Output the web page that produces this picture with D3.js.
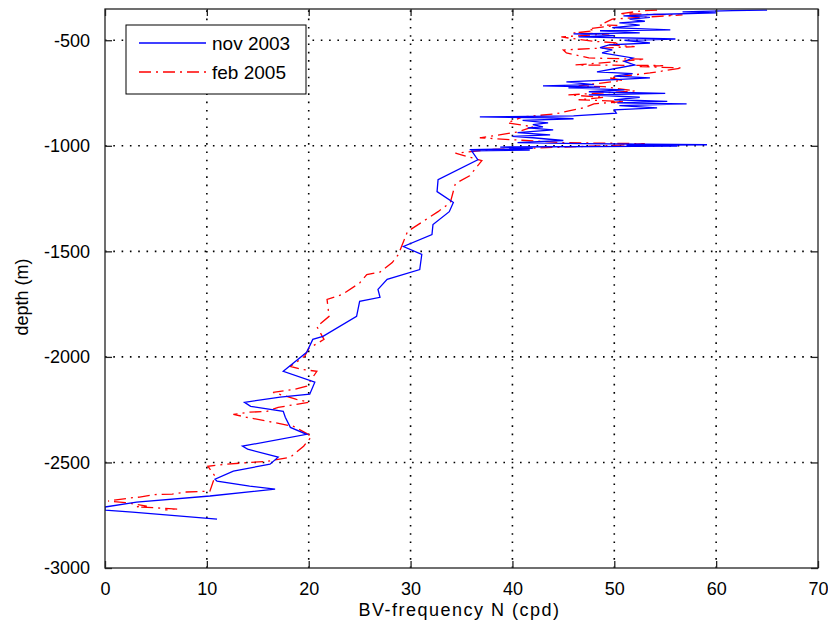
<!DOCTYPE html>
<html>
<head>
<meta charset="utf-8">
<script src="https://cdn.jsdelivr.net/npm/d3@7"></script>
<style>
  html, body { margin: 0; padding: 0; background: #fff; }
  text { font-family: "Liberation Sans", Arial, Helvetica, sans-serif; fill: #000; }
</style>
</head>
<body>
<svg id="chart" width="828" height="632"></svg>
<script>
// ---- data ----
const xTicks = [0, 10, 20, 30, 40, 50, 60, 70];
const yTicks = [-500, -1000, -1500, -2000, -2500, -3000];
const seriesNames = ["nov 2003", "feb 2005"];

const novDepth = [-357,-360,-366,-370,-378,-385,-392,-400,-410,-418,-428,-440,-451,-455,-465,-470,-478,-484,-494,-500,
  -513,-522,-535,-546,-560,-584,-600,-617,-650,-658,-670,-678,-690,-697,-710,-716,-722,-726,-735,-744,
  -752,-759,-770,-782,-790,-797,-801,-810,-820,-830,-845,-858,-863,-868,-872,-880,-891,-900,-910,-915,
  -925,-938,-948,-955,-962,-975,-985,-990,-995,-998,-1002,-1006,-1012,-1018,-1020,-1024,-1066,-1161,-1217,-1269,
  -1312,-1373,-1421,-1477,-1515,-1586,-1633,-1680,-1718,-1737,-1808,-1903,-1917,-1978,-2068,-2120,-2177,-2191,-2215,-2234,
  -2258,-2286,-2334,-2367,-2423,-2437,-2475,-2508,-2541,-2579,-2589,-2612,-2626,-2659,-2688,-2711,-2726,-2735,-2768];
const novN = [65.0,61.6,56.7,60.0,53.8,50.9,53.5,51.5,53.0,50.5,52.5,49.8,55.5,48.6,52.5,46.0,50.0,46.5,56.0,51.0,
  53.5,49.5,48.6,49.8,48.8,51.8,51.0,52.0,48.3,51.8,50.0,53.5,48.6,45.3,48.0,43.0,48.6,45.5,51.0,47.5,
  55.0,47.5,52.5,50.0,55.2,50.3,57.1,50.5,54.2,50.0,50.2,46.0,36.8,44.0,46.0,41.0,43.5,42.0,43.0,41.5,
  44.0,40.5,43.7,40.0,42.0,45.0,40.5,46.8,59.1,51.2,56.2,38.8,42.0,35.8,41.7,36.0,36.6,32.7,32.6,34.2,
  33.8,32.2,32.1,29.3,31.1,30.9,27.7,26.8,27.0,25.0,24.7,21.4,20.4,19.8,17.5,20.6,20.1,17.2,13.7,14.3,
  17.5,17.7,18.2,19.8,13.5,14.0,17.0,16.2,12.6,10.8,11.0,14.2,16.7,10.3,3.1,0,0,2.7,11.0];

const febDepth = [-357,-360,-375,-380,-400,-428,-430,-445,-455,-465,-470,-484,-490,-505,-513,-522,-530,-546,-560,-584,
  -590,-617,-620,-625,-631,-655,-678,-690,-716,-720,-740,-759,-770,-782,-790,-801,-820,-849,-863,-891,
  -910,-935,-962,-985,-990,-998,-1018,-1035,-1070,-1142,-1179,-1269,-1312,-1359,-1406,-1515,-1553,-1598,-1610,-1650,
  -1704,-1728,-1808,-1856,-1917,-1960,-1997,-2045,-2060,-2068,-2139,-2154,-2168,-2201,-2215,-2239,-2258,-2262,-2272,-2286,
  -2310,-2329,-2376,-2423,-2475,-2494,-2508,-2518,-2565,-2636,-2640,-2650,-2652,-2664,-2668,-2683,-2690,-2707,-2710,-2721,-2725];
const febN = [54.2,52.8,50.5,56.7,49.8,48.6,50.3,47.5,48.0,46.0,49.5,44.8,45.6,48.0,50.5,49.5,52.0,45.0,45.3,47.5,
  53.0,46.2,54.8,52.5,56.7,53.5,49.5,50.8,46.5,49.0,52.0,45.5,49.0,46.5,51.0,48.0,47.0,44.2,41.0,39.5,
  42.0,40.5,36.8,44.8,53.0,50.0,37.8,34.4,37.0,35.8,34.4,33.9,32.7,31.2,29.7,28.8,28.2,27.0,25.7,25.0,
  23.3,21.8,22.0,20.8,21.5,20.0,19.6,18.2,19.4,20.8,19.8,18.6,16.5,18.8,20.0,17.0,15.9,14.2,12.6,13.9,
  16.5,18.5,20.3,19.5,18.2,16.0,12.0,10.1,10.8,10.3,8.0,6.6,4.9,3.4,2.5,0.3,2.0,4.1,3.1,7.2,5.9];

// ---- layout ----
const svg = d3.select("#chart");
const L = 105, R = 818, T = 9, B = 568;
const x = d3.scaleLinear().domain([0, 70]).range([L, R]);
const y = d3.scaleLinear().domain([-3000, -352]).range([B, T]);
const FS = 18;

svg.append("rect").attr("width", 828).attr("height", 632).attr("fill", "#fff");

svg.append("defs").append("clipPath").attr("id", "clip")
  .append("rect").attr("x", L).attr("y", T).attr("width", R - L).attr("height", B - T);

// grid
const grid = svg.append("g").attr("stroke", "#000").attr("stroke-width", 1.6)
  .attr("stroke-dasharray", "1.6,6.7").attr("fill", "none");
xTicks.filter(v => v > 0 && v < 70).forEach(v => {
  grid.append("line").attr("x1", x(v)).attr("x2", x(v)).attr("y1", B).attr("y2", T);
});
yTicks.filter(v => v > -3000).forEach(v => {
  grid.append("line").attr("x1", L).attr("x2", R).attr("y1", y(v)).attr("y2", y(v));
});

// data lines
const plot = svg.append("g").attr("clip-path", "url(#clip)");
const line = d3.line().x(d => x(d[0])).y(d => y(d[1]));
const nov = novN.map((v, i) => [v, novDepth[i]]);
const feb = febN.map((v, i) => [v, febDepth[i]]);
plot.append("path").datum(feb).attr("d", line).attr("fill", "none")
  .attr("stroke", "#ff0000").attr("stroke-width", 1.3).attr("stroke-dasharray", "12,5,2,5");
plot.append("path").datum(nov).attr("d", line).attr("fill", "none")
  .attr("stroke", "#0000ff").attr("stroke-width", 1.3);

// axes (MATLAB style, ticks inward on all sides)
const tl = 7;
const ax = svg.append("g");
ax.append("rect").attr("x", L).attr("y", T).attr("width", R - L).attr("height", B - T)
  .attr("fill", "none").attr("stroke", "#222").attr("stroke-width", 1.3);
const bottomAxis = d3.axisBottom(x).tickValues(xTicks).tickSize(-tl).tickPadding(tl + 7).tickFormat(d3.format("d"));
const topAxis = d3.axisTop(x).tickValues(xTicks).tickSize(-tl).tickFormat("");
const leftAxis = d3.axisLeft(y).tickValues(yTicks).tickSize(-tl).tickPadding(tl + 8).tickFormat(d => String(d));
const rightAxis = d3.axisRight(y).tickValues(yTicks).tickSize(-tl).tickFormat("");
function styleAxis(g) {
  g.select(".domain").remove();
  g.selectAll(".tick line").attr("stroke", "#222").attr("stroke-width", 1.3);
  g.selectAll(".tick text").attr("font-size", FS).attr("font-family", null).attr("fill", "#000");
}
ax.append("g").attr("transform", `translate(0,${B})`).call(bottomAxis).call(styleAxis);
ax.append("g").attr("transform", `translate(0,${T})`).call(topAxis).call(styleAxis);
ax.append("g").attr("transform", `translate(${L},0)`).call(leftAxis).call(styleAxis);
ax.append("g").attr("transform", `translate(${R},0)`).call(rightAxis).call(styleAxis);
svg.selectAll("g").attr("font-family", null);

// axis labels
svg.append("text").attr("x", (L + R) / 2 - 2).attr("y", 616).attr("text-anchor", "middle")
  .attr("font-size", FS).attr("letter-spacing", 1.5).text("BV-frequency N (cpd)");
svg.append("text").attr("transform", `translate(28,297) rotate(-90)`)
  .attr("text-anchor", "middle").attr("font-size", FS).text("depth (m)");

// legend
const lg = svg.append("g");
lg.append("rect").attr("x", 126).attr("y", 25).attr("width", 180).attr("height", 69)
  .attr("fill", "#fff").attr("stroke", "#000").attr("stroke-width", 1);
const legY = [43, 72];
const legStyle = [{c: "#0000ff", d: null}, {c: "#ff0000", d: "12,5,2,5"}];
seriesNames.forEach((n, i) => {
  lg.append("line").attr("x1", 139).attr("x2", 206).attr("y1", legY[i]).attr("y2", legY[i])
    .attr("stroke", legStyle[i].c).attr("stroke-width", 1.3).attr("stroke-dasharray", legStyle[i].d);
  lg.append("text").attr("x", 212).attr("y", legY[i] + 7).attr("font-size", FS + 1).text(n);
});
</script>
</body>
</html>
